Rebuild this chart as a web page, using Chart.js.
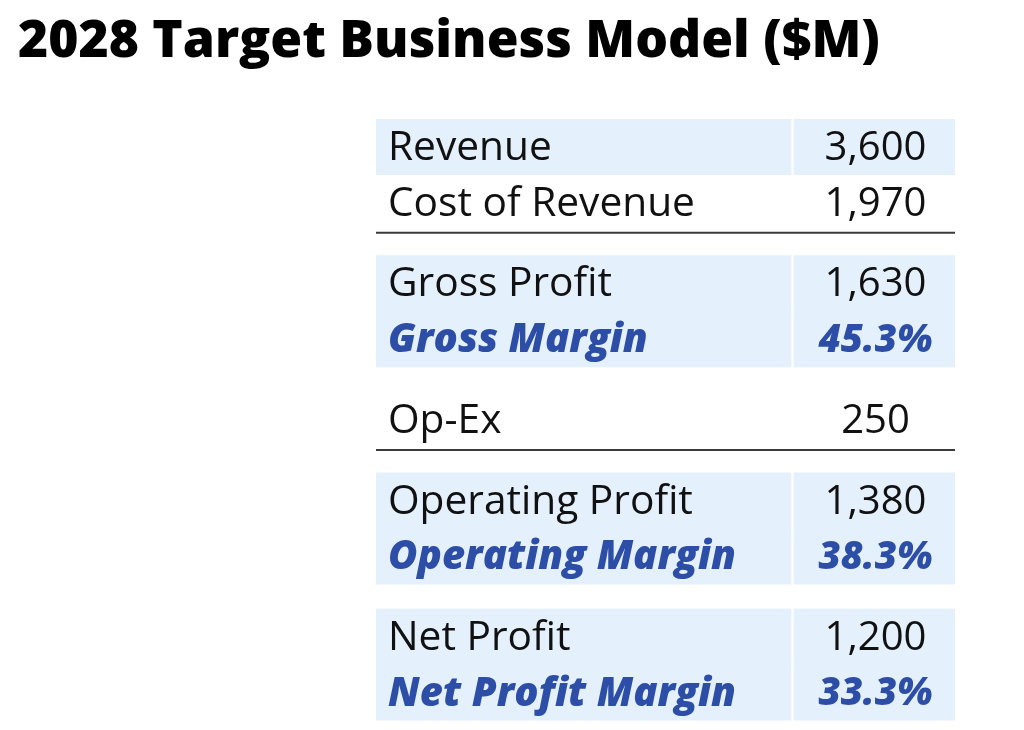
<!DOCTYPE html>
<html>
<head>
<meta charset="utf-8">
<script src="https://cdn.jsdelivr.net/npm/chart.js@4.4.1/dist/chart.umd.min.js"></script>
<style>
  html, body { margin: 0; padding: 0; background: #ffffff; }
  #wrap { position: relative; width: 1024px; height: 730px; }
</style>
</head>
<body>
<div id="wrap"><canvas id="c" width="1024" height="730"></canvas></div>
<script>
// ---------------- DATA ----------------
const chartTitle = "2028 Target Business Model ($M)";
const lineItems = ["Revenue", "Cost of Revenue", "Gross Profit", "Op-Ex", "Operating Profit", "Net Profit"];
const amounts = [3600, 1970, 1630, 250, 1380, 1200];
const marginLabels = ["Gross Margin", "Operating Margin", "Net Profit Margin"];
const marginPct = [45.3, 38.3, 33.3];

// table structure: which line item / margin each block holds
const tableBlocks = [
  { item: 0, margin: null, shaded: true,  rule: false, gapBefore: false },
  { item: 1, margin: null, shaded: false, rule: true,  gapBefore: false },
  { item: 2, margin: 0,    shaded: true,  rule: false, gapBefore: true },
  { item: 3, margin: null, shaded: false, rule: true,  gapBefore: true },
  { item: 4, margin: 1,    shaded: true,  rule: false, gapBefore: true },
  { item: 5, margin: 2,    shaded: true,  rule: false, gapBefore: true }
];

// ---------------- LAYOUT (table units) ----------------
const GAP = 0.45;          // gap between blocks, in row units
const RULE_OFFSET = 0.04;  // rule just under row
const COL_SPLIT_L = 0.7168, COL_SPLIT_R = 0.7219;

const rows = [];   // {label, value, kind, center, shaded}
const rules = [];
let pos = 0;
tableBlocks.forEach(b => {
  if (b.gapBefore) pos += GAP;
  rows.push({ label: lineItems[b.item], value: amounts[b.item].toLocaleString('en-US'), kind: 'amount', center: pos + 0.5, shaded: b.shaded });
  pos += 1;
  if (b.margin !== null) {
    rows.push({ label: marginLabels[b.margin], value: marginPct[b.margin].toFixed(1) + '%', kind: 'margin', center: pos + 0.5, shaded: b.shaded });
    pos += 1;
  }
  if (b.rule) rules.push(pos + RULE_OFFSET);
});
const TABLE_BOTTOM = pos;

// shaded cells as floating horizontal bars
const cellData = [];
rows.filter(r => r.shaded).forEach(r => {
  cellData.push({ y: r.center, x: [0, COL_SPLIT_L] });
  cellData.push({ y: r.center, x: [COL_SPLIT_R, 1] });
});

const ruleDatasets = rules.map(yv => ({
  type: 'line',
  data: [{ x: 0, y: yv }, { x: 1, y: yv }],
  borderColor: '#3a3a3a',
  borderWidth: 2,
  pointRadius: 0,
  fill: false,
  order: 0
}));

// ---------------- STYLE ----------------
const FAMILY = "'Open Sans', 'Noto Sans', sans-serif";
const TITLE_FAMILY = "'Open Sans', 'Noto Sans', sans-serif";
const SHADE = '#e4f0fc';
const BLUE = '#2d4ea7';
const INK = '#111111';

const meas = document.createElement('canvas').getContext('2d');
function fit(text, style, family, target, nominal) {
  meas.font = style + ' 100px ' + family;
  const w = meas.measureText(text).width;
  let s = 100 * target / w;
  s = Math.max(nominal * 0.85, Math.min(nominal * 1.2, s));
  return s;
}
const sizeLabel = fit("Cost of Revenue", "400", FAMILY, 307, 34);
const sizeValue = fit("3,600", "400", FAMILY, 102, 34);
const sizeMLabel = fit("Operating Margin", "italic 800", FAMILY, 348, 34);
const sizeMValue = fit("45.3%", "italic 800", FAMILY, 114, 34);
const sizeTitle = fit(chartTitle, "800", TITLE_FAMILY, 862, 52);

const textPlugin = {
  id: 'tableText',
  afterDatasetsDraw(chart) {
    const ctx = chart.ctx;
    const xs = chart.scales.x, ys = chart.scales.y;
    const labelX = xs.getPixelForValue(0) + 12;
    const valueX = (xs.getPixelForValue(COL_SPLIT_R) + xs.getPixelForValue(1)) / 2 + 1;
    ctx.save();
    ctx.textBaseline = 'alphabetic';
    rows.forEach(r => {
      const cy = ys.getPixelForValue(r.center);
      const isM = r.kind === 'margin';
      const lf = (isM ? 'italic 800 ' : '400 ') + (isM ? sizeMLabel : sizeLabel).toFixed(2) + 'px ' + FAMILY;
      const vf = (isM ? 'italic 800 ' : '400 ') + (isM ? sizeMValue : sizeValue).toFixed(2) + 'px ' + FAMILY;
      ctx.fillStyle = isM ? BLUE : INK;
      ctx.font = lf;
      const capL = ctx.measureText('H').actualBoundingBoxAscent;
      ctx.textAlign = 'left';
      ctx.fillText(r.label, labelX, cy + capL / 2 - 1.5);
      ctx.font = vf;
      const capV = ctx.measureText('0').actualBoundingBoxAscent;
      ctx.textAlign = 'center';
      ctx.fillText(r.value, valueX, cy + capV / 2 - 1.5);
    });
    // title
    ctx.fillStyle = '#000000';
    ctx.font = '800 ' + sizeTitle.toFixed(2) + 'px ' + TITLE_FAMILY;
    ctx.textAlign = 'left';
    ctx.fillText(chartTitle, 18, 57);
    ctx.restore();
  }
};

new Chart(document.getElementById('c'), {
  data: {
    datasets: [
      {
        type: 'bar',
        data: cellData,
        backgroundColor: SHADE,
        borderWidth: 0,
        borderSkipped: false,
        categoryPercentage: 1,
        barPercentage: 1,
        order: 1
      },
      ...ruleDatasets
    ]
  },
  options: {
    indexAxis: 'y',
    responsive: false,
    animation: false,
    devicePixelRatio: 1,
    layout: { padding: { left: 376, right: 69, top: 119, bottom: 9.4 } },
    scales: {
      x: { type: 'linear', min: 0, max: 1, display: false, offset: false },
      y: {
        type: 'linear', min: 0, max: TABLE_BOTTOM, reverse: true, display: false, offset: false,
        grid: { offset: false },
        afterBuildTicks: s => { s.ticks = [{ value: 0 }, { value: TABLE_BOTTOM }]; }
      }
    },
    plugins: { legend: { display: false }, tooltip: { enabled: false }, title: { display: false } }
  },
  plugins: [textPlugin]
});
</script>
</body>
</html>
